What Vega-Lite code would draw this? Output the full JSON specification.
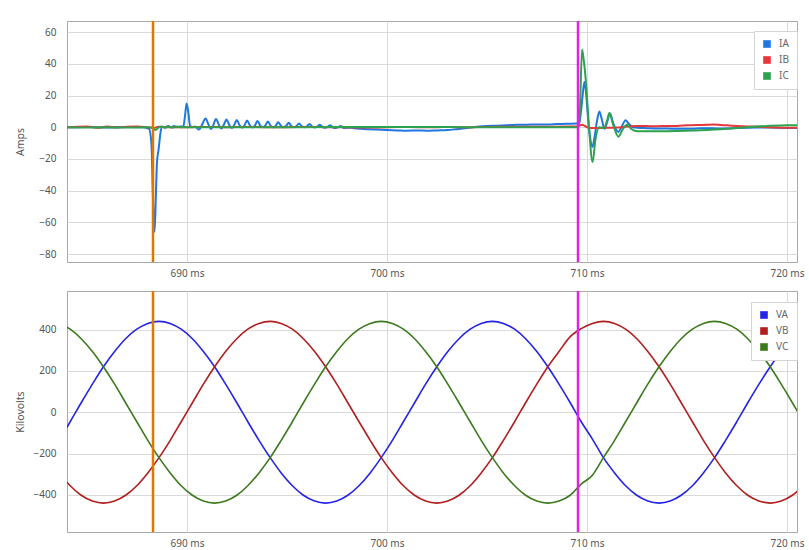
{
  "$schema": "https://vega.github.io/schema/vega-lite/v6.json",
  "padding": {"left": 14, "top": 19, "right": 10, "bottom": 3},
  "spacing": 10,
  "resolve": {"scale": {"color": "independent", "x": "independent", "y": "independent"}, "legend": {"color": "independent"}},
  "config": {
    "font": "Noto Sans",
    "view": {"stroke": "#a8a8a8", "strokeWidth": 1},
    "axis": {"labelFont": "Noto Sans", "labelFontSize": 10, "labelColor": "#555555", "titleFont": "Noto Sans", "titleFontSize": 10.5, "titleFontWeight": "normal", "titleColor": "#555555", "gridColor": "#dadada", "ticks": false, "domain": false},
    "legend": {"title": null, "symbolType": "square", "symbolSize": 58, "symbolStrokeWidth": 0, "labelFont": "Noto Sans", "labelFontSize": 10, "labelColor": "#666666", "strokeColor": "#d4d4d4", "fillColor": "#ffffff", "padding": 8, "rowPadding": 6, "labelOffset": 7}
  },
  "datasets": {
    "currents": [
      {"t":684,"s":"IA","v":0},{"t":685,"s":"IA","v":0.2},{"t":686,"s":"IA","v":-0.2},{"t":687,"s":"IA","v":0.2},{"t":687.8,"s":"IA","v":0},{"t":688.1,"s":"IA","v":-1},{"t":688.22,"s":"IA","v":-10},{"t":688.3,"s":"IA","v":-45},{"t":688.38,"s":"IA","v":-66},{"t":688.45,"s":"IA","v":-40},{"t":688.5,"s":"IA","v":-22},{"t":688.58,"s":"IA","v":-14},{"t":688.68,"s":"IA","v":-3},{"t":688.75,"s":"IA","v":0.5},{"t":688.9,"s":"IA","v":-0.3},{"t":689.05,"s":"IA","v":0.8},{"t":689.2,"s":"IA","v":-0.2},{"t":689.35,"s":"IA","v":0.8},{"t":689.5,"s":"IA","v":0},{"t":689.65,"s":"IA","v":0.5},{"t":689.82,"s":"IA","v":0.5},{"t":689.9,"s":"IA","v":7},{"t":689.98,"s":"IA","v":15},{"t":690.06,"s":"IA","v":10},{"t":690.15,"s":"IA","v":1},{"t":690.25,"s":"IA","v":0},{"t":690.4,"s":"IA","v":0.5},{"t":690.6,"s":"IA","v":-1.5},{"t":690.75,"s":"IA","v":1.5},{"t":690.93,"s":"IA","v":5.5},{"t":691.08,"s":"IA","v":1.5},{"t":691.2,"s":"IA","v":-1.2},{"t":691.32,"s":"IA","v":1.5},{"t":691.45,"s":"IA","v":5.2},{"t":691.6,"s":"IA","v":1.3},{"t":691.72,"s":"IA","v":-0.8},{"t":691.84,"s":"IA","v":1.5},{"t":691.97,"s":"IA","v":4.8},{"t":692.12,"s":"IA","v":1.2},{"t":692.24,"s":"IA","v":-0.5},{"t":692.36,"s":"IA","v":1.4},{"t":692.49,"s":"IA","v":4.5},{"t":692.64,"s":"IA","v":1},{"t":692.76,"s":"IA","v":-0.3},{"t":692.88,"s":"IA","v":1.3},{"t":693.0,"s":"IA","v":4.3},{"t":693.15,"s":"IA","v":1},{"t":693.28,"s":"IA","v":-0.2},{"t":693.4,"s":"IA","v":1.2},{"t":693.52,"s":"IA","v":4},{"t":693.67,"s":"IA","v":0.9},{"t":693.8,"s":"IA","v":0},{"t":693.92,"s":"IA","v":1.1},{"t":694.04,"s":"IA","v":3.6},{"t":694.19,"s":"IA","v":0.8},{"t":694.32,"s":"IA","v":0},{"t":694.44,"s":"IA","v":1},{"t":694.56,"s":"IA","v":3.2},{"t":694.71,"s":"IA","v":0.7},{"t":694.84,"s":"IA","v":0},{"t":694.96,"s":"IA","v":0.9},{"t":695.08,"s":"IA","v":2.8},{"t":695.23,"s":"IA","v":0.6},{"t":695.36,"s":"IA","v":0},{"t":695.48,"s":"IA","v":0.8},{"t":695.6,"s":"IA","v":2.4},{"t":695.75,"s":"IA","v":0.5},{"t":695.88,"s":"IA","v":0},{"t":696.0,"s":"IA","v":0.6},{"t":696.12,"s":"IA","v":2},{"t":696.27,"s":"IA","v":0.3},{"t":696.4,"s":"IA","v":-0.2},{"t":696.52,"s":"IA","v":0.5},{"t":696.64,"s":"IA","v":1.6},{"t":696.8,"s":"IA","v":0},{"t":696.92,"s":"IA","v":-0.3},{"t":697.04,"s":"IA","v":0.3},{"t":697.16,"s":"IA","v":1.2},{"t":697.32,"s":"IA","v":-0.3},{"t":697.44,"s":"IA","v":-0.5},{"t":697.56,"s":"IA","v":0},{"t":697.68,"s":"IA","v":0.8},{"t":697.85,"s":"IA","v":-0.5},{"t":698.2,"s":"IA","v":-0.3},{"t":698.5,"s":"IA","v":-0.8},{"t":699,"s":"IA","v":-1.2},{"t":699.5,"s":"IA","v":-1.5},{"t":700,"s":"IA","v":-1.8},{"t":700.5,"s":"IA","v":-2},{"t":701,"s":"IA","v":-2.2},{"t":701.5,"s":"IA","v":-2},{"t":702,"s":"IA","v":-2.2},{"t":702.5,"s":"IA","v":-2},{"t":703,"s":"IA","v":-1.8},{"t":703.5,"s":"IA","v":-1.2},{"t":704,"s":"IA","v":-0.5},{"t":704.5,"s":"IA","v":0.3},{"t":705,"s":"IA","v":0.8},{"t":705.5,"s":"IA","v":1},{"t":706,"s":"IA","v":1.3},{"t":706.5,"s":"IA","v":1.5},{"t":707,"s":"IA","v":1.6},{"t":707.5,"s":"IA","v":1.8},{"t":708,"s":"IA","v":1.8},{"t":708.5,"s":"IA","v":2},{"t":709,"s":"IA","v":2.2},{"t":709.5,"s":"IA","v":2.3},{"t":709.62,"s":"IA","v":3},{"t":709.7,"s":"IA","v":10},{"t":709.78,"s":"IA","v":20},{"t":709.87,"s":"IA","v":28.6},{"t":709.95,"s":"IA","v":22},{"t":710.05,"s":"IA","v":6},{"t":710.15,"s":"IA","v":-6},{"t":710.27,"s":"IA","v":-12.4},{"t":710.38,"s":"IA","v":-6},{"t":710.5,"s":"IA","v":4},{"t":710.62,"s":"IA","v":10},{"t":710.74,"s":"IA","v":5},{"t":710.87,"s":"IA","v":-1},{"t":711.0,"s":"IA","v":3},{"t":711.15,"s":"IA","v":8.6},{"t":711.3,"s":"IA","v":3},{"t":711.45,"s":"IA","v":-1.5},{"t":711.57,"s":"IA","v":-3},{"t":711.72,"s":"IA","v":0},{"t":711.93,"s":"IA","v":4.4},{"t":712.1,"s":"IA","v":2},{"t":712.3,"s":"IA","v":0},{"t":712.5,"s":"IA","v":-0.3},{"t":713,"s":"IA","v":-0.6},{"t":713.5,"s":"IA","v":-0.8},{"t":714,"s":"IA","v":-0.8},{"t":714.5,"s":"IA","v":-1},{"t":715,"s":"IA","v":-1},{"t":715.5,"s":"IA","v":-0.8},{"t":716,"s":"IA","v":-0.6},{"t":716.5,"s":"IA","v":-0.8},{"t":717,"s":"IA","v":-0.8},{"t":717.5,"s":"IA","v":-0.5},{"t":718,"s":"IA","v":-0.3},{"t":718.5,"s":"IA","v":-0.2},{"t":719,"s":"IA","v":-0.2},{"t":719.5,"s":"IA","v":-0.3},{"t":720,"s":"IA","v":-0.5},{"t":720.5,"s":"IA","v":-0.5},
      {"t":684,"s":"IB","v":0},{"t":685,"s":"IB","v":0.5},{"t":685.5,"s":"IB","v":-0.3},{"t":686,"s":"IB","v":0.4},{"t":686.5,"s":"IB","v":-0.2},{"t":687,"s":"IB","v":0.3},{"t":687.5,"s":"IB","v":0.5},{"t":688,"s":"IB","v":0},{"t":688.3,"s":"IB","v":-0.5},{"t":688.6,"s":"IB","v":0.3},{"t":689,"s":"IB","v":0},{"t":690,"s":"IB","v":0},{"t":691,"s":"IB","v":0.2},{"t":692,"s":"IB","v":0},{"t":693,"s":"IB","v":0.2},{"t":694,"s":"IB","v":0},{"t":695,"s":"IB","v":0},{"t":696,"s":"IB","v":0.2},{"t":697,"s":"IB","v":0},{"t":698,"s":"IB","v":0},{"t":699,"s":"IB","v":-0.2},{"t":700,"s":"IB","v":0},{"t":701,"s":"IB","v":0.1},{"t":702,"s":"IB","v":0},{"t":703,"s":"IB","v":0.1},{"t":704,"s":"IB","v":0},{"t":705,"s":"IB","v":0.2},{"t":706,"s":"IB","v":0.3},{"t":707,"s":"IB","v":0.3},{"t":708,"s":"IB","v":0.3},{"t":709,"s":"IB","v":0.4},{"t":709.5,"s":"IB","v":0.5},{"t":709.65,"s":"IB","v":1.2},{"t":709.75,"s":"IB","v":1.5},{"t":709.9,"s":"IB","v":0.8},{"t":710.1,"s":"IB","v":-0.5},{"t":710.5,"s":"IB","v":-0.5},{"t":711,"s":"IB","v":-0.3},{"t":711.5,"s":"IB","v":-0.2},{"t":712,"s":"IB","v":0.5},{"t":712.5,"s":"IB","v":0.8},{"t":713,"s":"IB","v":0.7},{"t":713.5,"s":"IB","v":0.6},{"t":714,"s":"IB","v":0.8},{"t":714.5,"s":"IB","v":0.8},{"t":715,"s":"IB","v":1.2},{"t":715.5,"s":"IB","v":1.4},{"t":716,"s":"IB","v":1.5},{"t":716.3,"s":"IB","v":1.7},{"t":716.7,"s":"IB","v":1.4},{"t":717,"s":"IB","v":1.2},{"t":717.5,"s":"IB","v":0.8},{"t":718,"s":"IB","v":0.5},{"t":718.5,"s":"IB","v":0.3},{"t":719,"s":"IB","v":0},{"t":719.5,"s":"IB","v":-0.2},{"t":720,"s":"IB","v":-0.4},{"t":720.5,"s":"IB","v":-0.4},
      {"t":684,"s":"IC","v":0},{"t":685,"s":"IC","v":-0.2},{"t":686,"s":"IC","v":0},{"t":687,"s":"IC","v":-0.2},{"t":688,"s":"IC","v":0},{"t":688.3,"s":"IC","v":-0.3},{"t":688.43,"s":"IC","v":-1.8},{"t":688.55,"s":"IC","v":-0.5},{"t":688.7,"s":"IC","v":0.3},{"t":688.9,"s":"IC","v":-0.2},{"t":689.1,"s":"IC","v":0.5},{"t":689.3,"s":"IC","v":-0.2},{"t":689.5,"s":"IC","v":0.4},{"t":689.7,"s":"IC","v":0},{"t":690,"s":"IC","v":0},{"t":692,"s":"IC","v":0},{"t":694,"s":"IC","v":0},{"t":696,"s":"IC","v":0},{"t":698,"s":"IC","v":0.2},{"t":700,"s":"IC","v":0.2},{"t":702,"s":"IC","v":0.2},{"t":704,"s":"IC","v":0},{"t":706,"s":"IC","v":0},{"t":708,"s":"IC","v":0},{"t":709,"s":"IC","v":0},{"t":709.55,"s":"IC","v":0},{"t":709.63,"s":"IC","v":5},{"t":709.75,"s":"IC","v":49},{"t":709.82,"s":"IC","v":44},{"t":709.95,"s":"IC","v":28},{"t":710.1,"s":"IC","v":0},{"t":710.28,"s":"IC","v":-22},{"t":710.42,"s":"IC","v":-8},{"t":710.6,"s":"IC","v":0},{"t":710.85,"s":"IC","v":-0.5},{"t":711.0,"s":"IC","v":4},{"t":711.12,"s":"IC","v":9},{"t":711.3,"s":"IC","v":2},{"t":711.57,"s":"IC","v":-6},{"t":711.8,"s":"IC","v":-1},{"t":712.0,"s":"IC","v":1.5},{"t":712.2,"s":"IC","v":-1},{"t":712.5,"s":"IC","v":-2.5},{"t":713,"s":"IC","v":-2.6},{"t":714,"s":"IC","v":-2.5},{"t":715,"s":"IC","v":-2.2},{"t":716,"s":"IC","v":-1.8},{"t":717,"s":"IC","v":-1},{"t":718,"s":"IC","v":0},{"t":719,"s":"IC","v":0.8},{"t":720,"s":"IC","v":1.3},{"t":720.5,"s":"IC","v":1.3}
    ],
    "voltages": [
      {"t":683.6,"VA":-136,"VB":-294,"VC":430},{"t":684.16,"VA":-46,"VB":-356,"VC":402},{"t":684.71,"VA":46,"VB":-402,"VC":356},{"t":685.27,"VA":136,"VB":-430,"VC":294},{"t":685.82,"VA":220,"VB":-440,"VC":220},{"t":686.38,"VA":294,"VB":-430,"VC":136},{"t":686.93,"VA":356,"VB":-402,"VC":46},{"t":687.49,"VA":402,"VB":-356,"VC":-46},{"t":688.04,"VA":430,"VB":-294,"VC":-136},{"t":688.6,"VA":440,"VB":-220,"VC":-220},{"t":689.16,"VA":430,"VB":-136,"VC":-294},{"t":689.71,"VA":402,"VB":-46,"VC":-356},{"t":690.27,"VA":356,"VB":46,"VC":-402},{"t":690.82,"VA":294,"VB":136,"VC":-430},{"t":691.38,"VA":220,"VB":220,"VC":-440},{"t":691.93,"VA":136,"VB":294,"VC":-430},{"t":692.49,"VA":46,"VB":356,"VC":-402},{"t":693.04,"VA":-46,"VB":402,"VC":-356},{"t":693.6,"VA":-136,"VB":430,"VC":-294},{"t":694.16,"VA":-220,"VB":440,"VC":-220},{"t":694.71,"VA":-294,"VB":430,"VC":-136},{"t":695.27,"VA":-356,"VB":402,"VC":-46},{"t":695.82,"VA":-402,"VB":356,"VC":46},{"t":696.38,"VA":-430,"VB":294,"VC":136},{"t":696.93,"VA":-440,"VB":220,"VC":220},{"t":697.49,"VA":-430,"VB":136,"VC":294},{"t":698.04,"VA":-402,"VB":46,"VC":356},{"t":698.6,"VA":-356,"VB":-46,"VC":402},{"t":699.16,"VA":-294,"VB":-136,"VC":430},{"t":699.71,"VA":-220,"VB":-220,"VC":440},{"t":700.27,"VA":-136,"VB":-294,"VC":430},{"t":700.82,"VA":-46,"VB":-356,"VC":402},{"t":701.38,"VA":46,"VB":-402,"VC":356},{"t":701.93,"VA":136,"VB":-430,"VC":294},{"t":702.49,"VA":220,"VB":-440,"VC":220},{"t":703.04,"VA":294,"VB":-430,"VC":136},{"t":703.6,"VA":356,"VB":-402,"VC":46},{"t":704.16,"VA":402,"VB":-356,"VC":-46},{"t":704.71,"VA":430,"VB":-294,"VC":-136},{"t":705.27,"VA":440,"VB":-220,"VC":-220},{"t":705.82,"VA":430,"VB":-136,"VC":-294},{"t":706.38,"VA":402,"VB":-46,"VC":-356},{"t":706.93,"VA":356,"VB":46,"VC":-402},{"t":707.49,"VA":294,"VB":136,"VC":-430},{"t":708.04,"VA":220,"VB":220,"VC":-440},{"t":708.6,"VA":136,"VB":294,"VC":-430},{"t":709.16,"VA":46,"VB":366,"VC":-402},{"t":709.71,"VA":-46,"VB":405,"VC":-348},{"t":710.27,"VA":-130,"VB":430,"VC":-305},{"t":710.82,"VA":-220,"VB":440,"VC":-220},{"t":711.38,"VA":-294,"VB":430,"VC":-136},{"t":711.93,"VA":-356,"VB":402,"VC":-46},{"t":712.49,"VA":-402,"VB":356,"VC":46},{"t":713.04,"VA":-430,"VB":294,"VC":136},{"t":713.6,"VA":-440,"VB":220,"VC":220},{"t":714.16,"VA":-430,"VB":136,"VC":294},{"t":714.71,"VA":-402,"VB":46,"VC":356},{"t":715.27,"VA":-356,"VB":-46,"VC":402},{"t":715.82,"VA":-294,"VB":-136,"VC":430},{"t":716.38,"VA":-220,"VB":-220,"VC":440},{"t":716.93,"VA":-136,"VB":-294,"VC":430},{"t":717.49,"VA":-46,"VB":-356,"VC":402},{"t":718.04,"VA":46,"VB":-402,"VC":356},{"t":718.6,"VA":136,"VB":-430,"VC":294},{"t":719.16,"VA":220,"VB":-440,"VC":220},{"t":719.71,"VA":294,"VB":-430,"VC":136},{"t":720.27,"VA":356,"VB":-402,"VC":46},{"t":720.82,"VA":402,"VB":-356,"VC":-46}
    ],
    "cursors": [{"name":"cursor1","t":688.3},{"name":"cursor2","t":709.55}]
  },
  "vconcat": [
    {
      "width": 730,
      "height": 241,
      "layer": [
        {
          "data": {"name": "currents"},
          "mark": {"type": "line", "strokeWidth": 2, "clip": true, "interpolate": "monotone"},
          "encoding": {
            "x": {"field": "t", "type": "quantitative", "scale": {"domain": [684, 720.5], "nice": false, "zero": false},
                  "axis": {"values": [690, 700, 710, 720], "labelExpr": "datum.value + ' ms'", "title": null, "labelPadding": 6}},
            "y": {"field": "v", "type": "quantitative", "scale": {"domain": [-85, 67], "nice": false},
                  "axis": {"values": [-80, -60, -40, -20, 0, 20, 40, 60], "title": "Amps", "labelPadding": 11, "titleX": -47, "titleBaseline": "middle"}},
            "color": {"field": "s", "type": "nominal", "scale": {"domain": ["IA", "IB", "IC"], "range": ["#1f78e0", "#e8363a", "#2ea24e"]},
                      "legend": {"orient": "none", "legendX": 687, "legendY": 10,
                                 "encode": {"symbols": {"update": {"fill": {"signal": "datum.value === 'IA' ? '#1f78e0' : datum.value === 'IB' ? '#e8363a' : '#2ea24e'"}, "strokeWidth": {"value": 0}}}}}}
          }
        },
        {
          "data": {"name": "cursors"},
          "transform": [{"filter": "datum.name == 'cursor1'"}],
          "mark": {"type": "rule", "color": "#e07800", "strokeWidth": 2.5},
          "encoding": {"x": {"field": "t", "type": "quantitative"}}
        },
        {
          "data": {"name": "cursors"},
          "transform": [{"filter": "datum.name == 'cursor2'"}],
          "mark": {"type": "rule", "color": "#e61ee6", "strokeWidth": 2.5},
          "encoding": {"x": {"field": "t", "type": "quantitative"}}
        }
      ]
    },
    {
      "width": 730,
      "height": 241,
      "layer": [
        {
          "data": {"name": "voltages"},
          "transform": [{"fold": ["VA", "VB", "VC"], "as": ["s", "v"]}],
          "mark": {"type": "line", "strokeWidth": 1.6, "clip": true, "interpolate": "monotone"},
          "encoding": {
            "x": {"field": "t", "type": "quantitative", "scale": {"domain": [684, 720.5], "nice": false, "zero": false},
                  "axis": {"values": [690, 700, 710, 720], "labelExpr": "datum.value + ' ms'", "title": null, "labelPadding": 6}},
            "y": {"field": "v", "type": "quantitative", "scale": {"domain": [-580, 587], "nice": false},
                  "axis": {"values": [-400, -200, 0, 200, 400], "title": "Kilovolts", "labelPadding": 11, "titleX": -47, "titleBaseline": "middle"}},
            "color": {"field": "s", "type": "nominal", "scale": {"domain": ["VA", "VB", "VC"], "range": ["#2424e6", "#b01e1e", "#3c7a1e"]},
                      "legend": {"orient": "none", "legendX": 684, "legendY": 11,
                                 "encode": {"symbols": {"update": {"fill": {"signal": "datum.value === 'VA' ? '#2424e6' : datum.value === 'VB' ? '#b01e1e' : '#3c7a1e'"}, "strokeWidth": {"value": 0}}}}}}
          }
        },
        {
          "data": {"name": "cursors"},
          "transform": [{"filter": "datum.name == 'cursor1'"}],
          "mark": {"type": "rule", "color": "#e07800", "strokeWidth": 2.5},
          "encoding": {"x": {"field": "t", "type": "quantitative"}}
        },
        {
          "data": {"name": "cursors"},
          "transform": [{"filter": "datum.name == 'cursor2'"}],
          "mark": {"type": "rule", "color": "#e61ee6", "strokeWidth": 2.5},
          "encoding": {"x": {"field": "t", "type": "quantitative"}}
        }
      ]
    }
  ]
}
